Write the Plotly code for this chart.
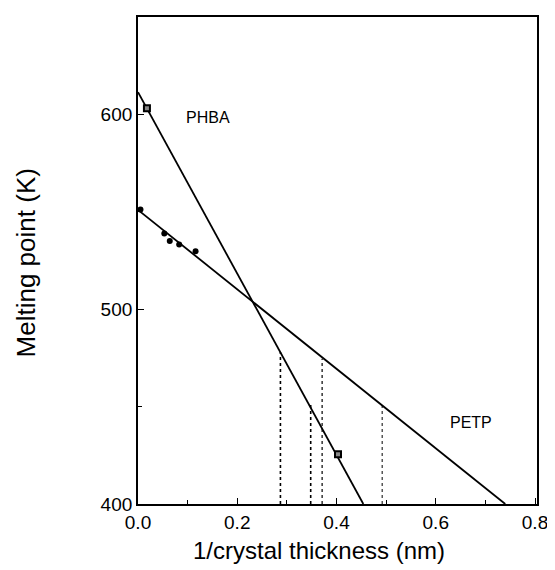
import plotly.graph_objects as go

# Data
phba_x = [0.018, 0.403]
phba_y = [603.2, 425.5]
petp_x = [0.005, 0.053, 0.064, 0.083, 0.116]
petp_y = [551.2, 538.8, 535.0, 533.2, 529.8]

phba_fit_x = [0.0, 0.454]
phba_fit_y = [611.4, 400.0]
petp_fit_x = [0.0, 0.740]
petp_fit_y = [551.0, 400.0]

drop_x = [0.287, 0.348, 0.371, 0.492]
drop_top = [478.0, 451.4, 474.6, 451.0]
drop_dash = ["dot", "dot", "dot", "dot"]
drop_width = [1.6, 1.6, 1.2, 1.0]

labels = ["PHBA", "PETP"]
label_x = [0.141, 0.671]
label_y = [598.3, 442.0]

x_title = "1/crystal thickness (nm)"
y_title = "Melting point (K)"

FONT = "Liberation Sans, Arial, Helvetica, sans-serif"

fig = go.Figure()

fig.add_trace(go.Scatter(x=phba_fit_x, y=phba_fit_y, mode="lines",
                         line=dict(color="black", width=1.8), showlegend=False))
fig.add_trace(go.Scatter(x=petp_fit_x, y=petp_fit_y, mode="lines",
                         line=dict(color="black", width=1.8), showlegend=False))

for xv, yt, ds, w in zip(drop_x, drop_top, drop_dash, drop_width):
    fig.add_trace(go.Scatter(x=[xv, xv], y=[400, yt], mode="lines",
                             line=dict(color="black", width=w, dash=ds),
                             showlegend=False))

fig.add_trace(go.Scatter(x=phba_x, y=phba_y, mode="markers",
                         marker=dict(symbol="square", size=6, color="#888888",
                                     line=dict(color="black", width=2)),
                         showlegend=False))
fig.add_trace(go.Scatter(x=petp_x, y=petp_y, mode="markers",
                         marker=dict(symbol="circle", size=6, color="black"),
                         showlegend=False))

for t, xv, yv in zip(labels, label_x, label_y):
    fig.add_annotation(x=xv, y=yv, text=t, showarrow=False,
                       font=dict(family=FONT, size=16, color="black"))

# axis titles as paper-anchored annotations (the reference's are off-centre)
fig.add_annotation(xref="paper", yref="paper", x=0.453, y=-0.096,
                   text=x_title, showarrow=False, xanchor="center", yanchor="middle",
                   font=dict(family=FONT, size=24, color="black"))
fig.add_annotation(xref="paper", yref="paper", x=-0.282, y=0.495,
                   text=y_title, showarrow=False, textangle=-90,
                   xanchor="center", yanchor="middle",
                   font=dict(family=FONT, size=26, color="black"))

# page body adds an 8px offset; compensate so the plot lands where the reference has it
fig.update_layout(
    width=547, height=562,
    margin=dict(l=130, r=13, t=7, b=66),
    paper_bgcolor="white", plot_bgcolor="white",
    font=dict(family=FONT, color="black"),
)
fig.update_xaxes(
    range=[0, 0.804], tickvals=[0, 0.2, 0.4, 0.6, 0.8],
    ticktext=["0.0", "0.2", "0.4", "0.6", "0.8"],
    ticks="inside", ticklen=6, tickwidth=1, tickcolor="black",
    minor=dict(dtick=0.1, ticks="inside", ticklen=4, tickcolor="black"),
    showline=True, linecolor="black", linewidth=1.8, mirror=True,
    showgrid=False, zeroline=False,
    tickfont=dict(size=19, family=FONT),
)
fig.update_yaxes(
    range=[400, 650], tickvals=[400, 500, 600],
    ticks="inside", ticklen=6, tickwidth=1, tickcolor="black",
    minor=dict(tickvals=[450, 550], ticks="inside", ticklen=4, tickcolor="black"),
    showline=True, linecolor="black", linewidth=1.8, mirror=True,
    showgrid=False, zeroline=False,
    tickfont=dict(size=19, family=FONT),
)

fig.write_html("out.html")
